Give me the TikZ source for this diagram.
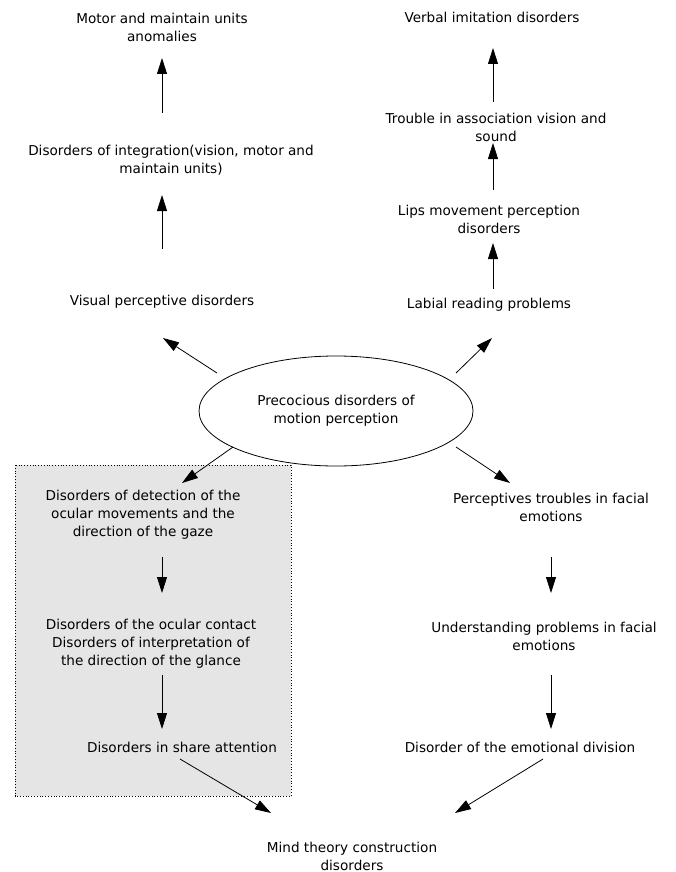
\documentclass[tikz,border=0pt]{standalone}
\usepackage{fontspec}
\setmainfont{DejaVu Sans}
\usetikzlibrary{arrows.meta,calc,shapes.geometric}
\definecolor{boxgray}{RGB}{229,229,229}
\begin{document}
\begin{tikzpicture}[x=1pt,y=-1pt,
  txt/.style={inner sep=0pt,align=center,font=\fontsize{13.6}{18}\selectfont},
  arr/.style={-{Triangle[length=16pt,width=10pt]},line width=0.8pt},
  groupbox/.style={fill=boxgray,draw=black,dotted,line width=0.8pt}]
\useasboundingbox (0,0) rectangle (676,872);
\draw[groupbox] (15,465) rectangle (291,796);
% left top
\node[txt] (motor) at (162,27) {Motor and maintain units\\anomalies};
\node[txt] (integ) at (171,160) {Disorders of integration(vision, motor and\\maintain units)};
\node[txt] (vis) at (162,302) {Visual perceptive disorders};
% right top
\node[txt] (verbal) at (492,17) {Verbal imitation disorders};
\node[txt] (trouble) at (496,127) {Trouble in association vision and\\sound};
\node[txt] (lips) at (489,219) {Lips movement perception\\disorders};
\node[txt] (labial) at (489,305) {Labial reading problems};
% centre
\node[ellipse,draw,line width=0.8pt,minimum width=274pt,minimum height=110pt,inner sep=0pt,txt] (ell) at (336,411) {Precocious disorders of\\motion perception};
% left group
\node[txt] (detect) at (143,515) {Disorders of detection of the\\ocular movements and the\\direction of the gaze};
\node[txt] (ocular) at (151,644) {Disorders of the ocular contact\\Disorders of interpretation of\\the direction of the glance};
\node[txt] (share) at (182,747) {Disorders in share attention};
% right group
\node[txt] (percept) at (551,507) {Perceptives troubles in facial\\emotions};
\node[txt] (underst) at (544,636) {Understanding problems in facial\\emotions};
\node[txt] (emodiv) at (520,747) {Disorder of the emotional division};
% bottom
\node[txt] (mind) at (352,856) {Mind theory construction\\disorders};
% connectors
\draw[arr] ($(vis)+(0,-53)$) -- ($(integ)+(-9,35)$);
\draw[arr] ($(integ)+(-9,-47)$) -- ($(motor)+(0,31)$);
\draw[arr] ($(ell)+(-119,-38)$) -- ($(vis)+(1,36)$);
\draw[arr] ($(ell)+(120,-38)$) -- ($(labial)+(3,33)$);
\draw[arr] ($(labial)+(4,-16)$) -- ($(lips)+(4,24)$);
\draw[arr] ($(lips)+(4,-29)$) -- ($(trouble)+(-3,16)$);
\draw[arr] ($(trouble)+(-3,-25)$) -- ($(verbal)+(1,31)$);
\draw[arr] ($(ell)+(-103,36)$) -- ($(detect)+(39,-32)$);
\draw[arr] ($(ell)+(120,36)$) -- ($(percept)+(-41,-24)$);
\draw[arr] ($(detect)+(19,42)$) -- ($(ocular)+(11,-51)$);
\draw[arr] ($(ocular)+(11,31)$) -- ($(share)+(-20,-18)$);
\draw[arr] ($(share)+(-2,12)$) -- ($(mind)+(-81,-43)$);
\draw[arr] ($(percept)+(0,50)$) -- ($(underst)+(7,-43)$);
\draw[arr] ($(underst)+(7,39)$) -- ($(emodiv)+(31,-18)$);
\draw[arr] ($(emodiv)+(23,12)$) -- ($(mind)+(103,-43)$);
\end{tikzpicture}
\end{document}
